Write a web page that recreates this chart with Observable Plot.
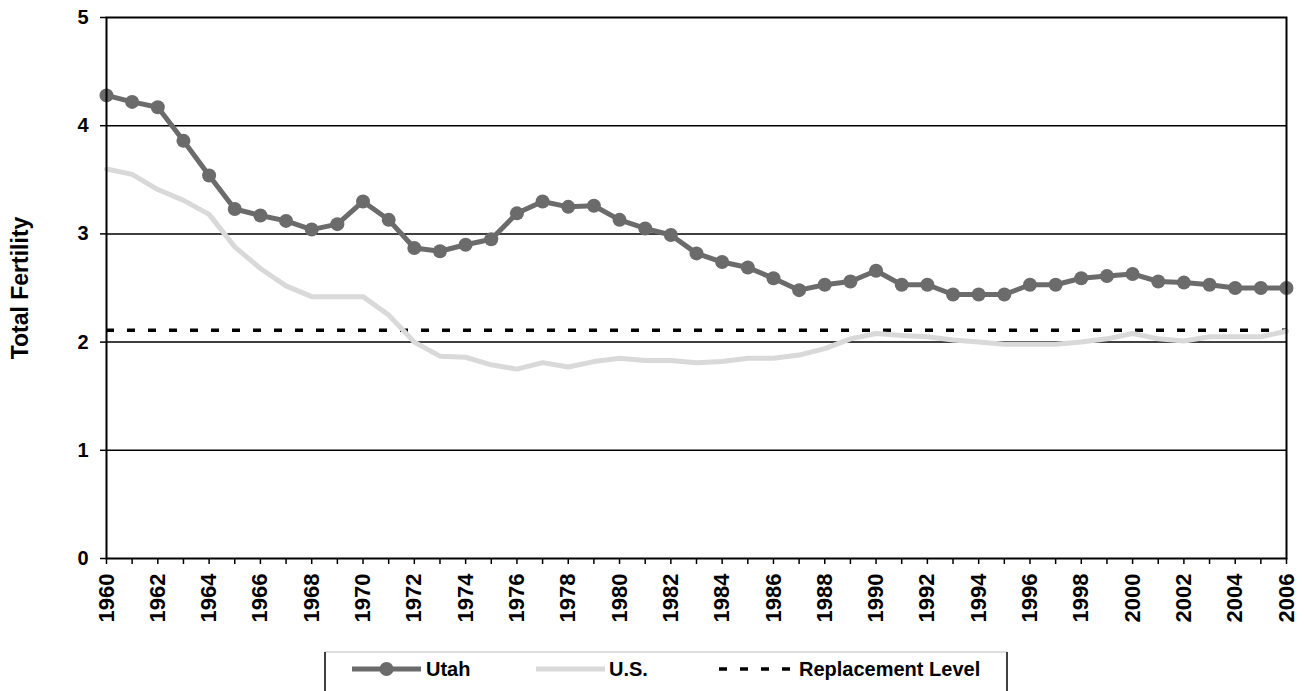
<!DOCTYPE html>
<html><head><meta charset="utf-8">
<script src="https://cdn.jsdelivr.net/npm/d3@7"></script>
<script src="https://cdn.jsdelivr.net/npm/@observablehq/plot@0.6"></script>
<style>
body{margin:0;background:#fff;font-family:"Liberation Sans",Arial,sans-serif;}
#wrap{position:relative;width:1304px;height:691px;overflow:hidden;background:#fff}
#legend{position:absolute;left:0;top:0}
</style></head><body><div id="wrap"><div id="chart"></div><svg id="legend" width="1304" height="691"></svg></div>
<script>
const years = [1960,1961,1962,1963,1964,1965,1966,1967,1968,1969,
  1970,1971,1972,1973,1974,1975,1976,1977,1978,1979,
  1980,1981,1982,1983,1984,1985,1986,1987,1988,1989,
  1990,1991,1992,1993,1994,1995,1996,1997,1998,1999,
  2000,2001,2002,2003,2004,2005,2006];
const utah = [4.28,4.22,4.17,3.86,3.54,3.23,3.17,3.12,3.04,3.09,
  3.30,3.13,2.87,2.84,2.90,2.95,3.19,3.30,3.25,3.26,
  3.13,3.05,2.99,2.82,2.74,2.69,2.59,2.48,2.53,2.56,
  2.66,2.53,2.53,2.44,2.44,2.44,2.53,2.53,2.59,2.61,
  2.63,2.56,2.55,2.53,2.50,2.50,2.50];
const us = [3.60,3.55,3.41,3.31,3.18,2.88,2.68,2.52,2.42,2.42,
  2.42,2.25,2.00,1.87,1.86,1.79,1.75,1.81,1.77,1.82,
  1.85,1.83,1.83,1.81,1.82,1.85,1.85,1.88,1.94,2.03,
  2.08,2.06,2.05,2.02,2.00,1.98,1.98,1.98,2.00,2.03,
  2.08,2.03,2.01,2.05,2.05,2.05,2.10];
const replacementLevel = 2.11;
const xTickLabels = ["1960","1962","1964","1966","1968","1970","1972","1974","1976","1978",
  "1980","1982","1984","1986","1988","1990","1992","1994","1996","1998",
  "2000","2002","2004","2006"];
const yTickLabels = ["0","1","2","3","4","5"];
const gridValues = [1,2,3,4];
const seriesNames = ["Utah","U.S.","Replacement Level"];
const yTitle = "Total Fertility";

const UTAH_COLOR = "#6b6b6b", US_COLOR = "#d9d9d9";
const FONT = "'Liberation Sans', Arial, sans-serif";

const rows = years.map((y,i)=>({year:y, utah:utah[i], us:us[i]}));
const xLabelYears = xTickLabels.map(Number);
const yTickVals = yTickLabels.map(Number);

const chart = Plot.plot({
  width:1304, height:652,
  marginLeft:106, marginRight:18, marginTop:17, marginBottom:94,
  style:{fontFamily:FONT, fontWeight:"bold", fontSize:"20px", color:"#000", background:"#fff", overflow:"visible"},
  x:{domain:[1960,2006]},
  y:{domain:[0,5]},
  marks:[
    Plot.ruleY(gridValues,{stroke:"#000", strokeWidth:1.5}),
    Plot.ruleY([replacementLevel],{stroke:"#000", strokeWidth:3.5, strokeDasharray:"8,13"}),
    Plot.line(rows,{x:"year", y:"us", stroke:US_COLOR, strokeWidth:5, strokeLinejoin:"round"}),
    Plot.line(rows,{x:"year", y:"utah", stroke:UTAH_COLOR, strokeWidth:5, strokeLinejoin:"round"}),
    Plot.dot(rows,{x:"year", y:"utah", r:7, fill:UTAH_COLOR, stroke:null}),
    Plot.frame({stroke:"#000", strokeWidth:2}),
    Plot.axisY(yTickVals,{tickSize:6, tickFormat:()=>"", label:null, stroke:"#000", strokeWidth:1.5}),
    Plot.axisX(years,{tickSize:6, tickFormat:()=>"", label:null, stroke:"#000", strokeWidth:1.5}),
    Plot.text(yTickVals,{y:d=>d, frameAnchor:"left", dx:-18, textAnchor:"end", text:(d,i)=>yTickLabels[i], fontSize:20, fontWeight:"bold", fill:"#000"}),
    Plot.text(xLabelYears,{x:d=>d, frameAnchor:"bottom", dy:15, rotate:-90, textAnchor:"end", lineAnchor:"middle", text:(d,i)=>xTickLabels[i], fontSize:22, fontWeight:"bold", fill:"#000"}),
    Plot.text([yTitle],{frameAnchor:"left", dx:-86, rotate:-90, textAnchor:"middle", lineAnchor:"middle", text:d=>d, fontSize:23, fontWeight:"bold", fill:"#000"})
  ]
});
document.getElementById("chart").appendChild(chart);

// legend
const lg = d3.select("#legend");
const L = 325, T = 652, R = 1007, cy = 669;
lg.append("line").attr("x1",L).attr("x2",R).attr("y1",T).attr("y2",T).attr("stroke","#bbb").attr("stroke-width",1);
lg.append("line").attr("x1",L).attr("x2",L).attr("y1",T).attr("y2",700).attr("stroke","#000").attr("stroke-width",1.5);
lg.append("line").attr("x1",R).attr("x2",R).attr("y1",T).attr("y2",700).attr("stroke","#000").attr("stroke-width",1.5);
const items = [
  {name:seriesNames[0], x0:352, x1:421, stroke:UTAH_COLOR, dash:null, dot:true, tx:426},
  {name:seriesNames[1], x0:536, x1:605, stroke:US_COLOR, dash:null, dot:false, tx:609},
  {name:seriesNames[2], x0:719, x1:797, stroke:"#000", dash:"8,13", dot:false, tx:799}
];
for (const it of items) {
  lg.append("line").attr("x1",it.x0).attr("x2",it.x1).attr("y1",cy).attr("y2",cy)
    .attr("stroke",it.stroke).attr("stroke-width",it.dash?3.5:5).attr("stroke-dasharray",it.dash);
  if (it.dot) lg.append("circle").attr("cx",(it.x0+it.x1)/2).attr("cy",cy).attr("r",7).attr("fill",it.stroke);
  lg.append("text").attr("x",it.tx).attr("y",cy).attr("dy","0.35em")
    .attr("font-family",FONT).attr("font-weight","bold").attr("font-size",20)
    .text(it.name);
}
</script></body></html>
